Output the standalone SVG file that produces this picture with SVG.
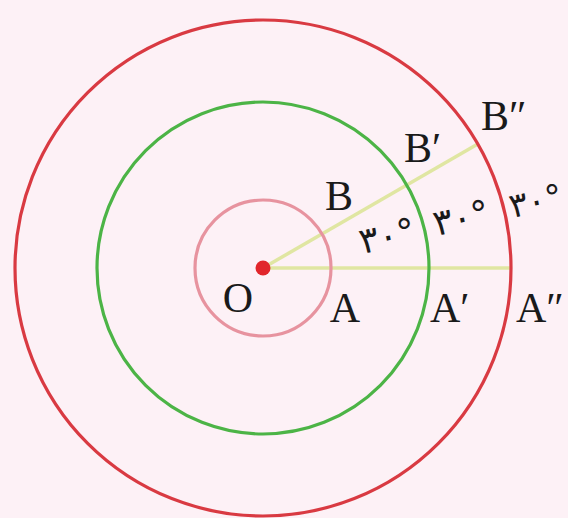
<svg xmlns="http://www.w3.org/2000/svg" width="568" height="518" viewBox="0 0 568 518">
<style>
.c{fill:none;stroke-width:3.2}
.lbl{font-family:"Liberation Serif","Times New Roman",serif;font-size:42px;fill:#1a1a1a}
.deg{font-family:"DejaVu Sans","Noto Sans",sans-serif;font-size:36px;fill:#1a1a1a;letter-spacing:-1px}
.ray{stroke:#e0e6a2;stroke-width:3.5;fill:none}
</style>
<rect width="568" height="518" fill="#fdf1f6"/>
<g id="connectors">
<line class="ray" x1="263" y1="268" x2="510" y2="268"/>
<line class="ray" x1="263" y1="268" x2="477.8" y2="144"/>
</g>
<g id="circle-small"><circle class="c" cx="263" cy="268" r="68" stroke="#e7939f"/></g>
<g id="circle-mid"><circle class="c" cx="263" cy="268" r="166" stroke="#4cb446"/></g>
<g id="circle-big"><circle class="c" cx="263" cy="268" r="248" stroke="#d93a42"/></g>
<g id="O"><circle cx="263" cy="268" r="7.5" fill="#e1262b"/><text class="lbl" x="238" y="312" text-anchor="middle">O</text></g>
<g id="A"><text class="lbl" x="345" y="322" text-anchor="middle">A</text></g>
<g id="A1"><text class="lbl" x="430" y="322">A′</text></g>
<g id="A2"><text class="lbl" x="516" y="322">A″</text></g>
<g id="B"><text class="lbl" x="325" y="210">B</text></g>
<g id="B1"><text class="lbl" x="404" y="162">B′</text></g>
<g id="B2"><text class="lbl" x="481" y="130">B″</text></g>
<g id="angles">
<text class="deg" x="362" y="254" transform="rotate(-12 362 254)">۳۰°</text>
<text class="deg" x="436" y="236" transform="rotate(-12 436 236)">۳۰°</text>
<text class="deg" x="512" y="218" transform="rotate(-12 512 218)" style="font-size:34px;letter-spacing:-2.5px">۳۰°</text>
</g>
</svg>
